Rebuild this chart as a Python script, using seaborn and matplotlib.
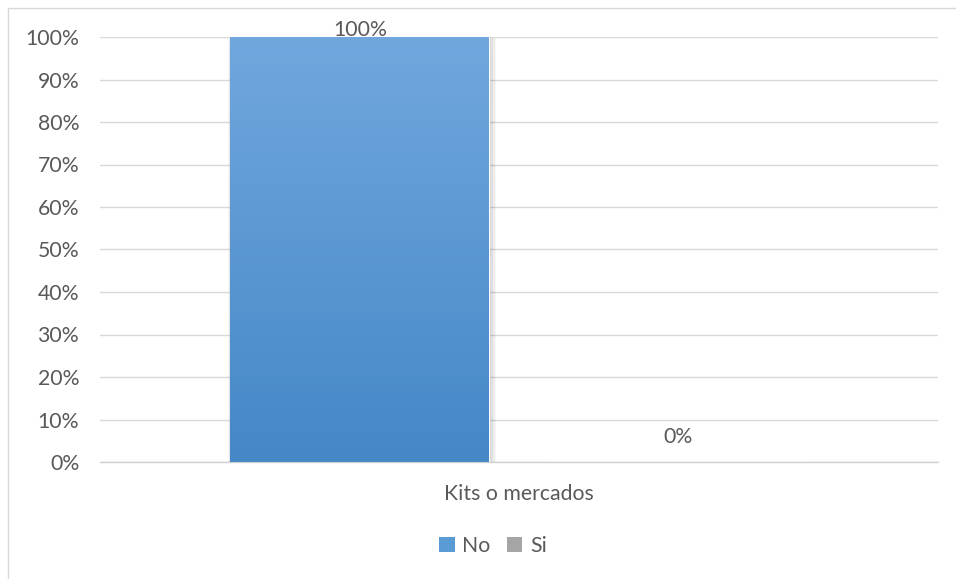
import numpy as np
import pandas as pd
import matplotlib
matplotlib.use("Agg")
import matplotlib.pyplot as plt
import matplotlib.patches as mpatches
from matplotlib.colors import LinearSegmentedColormap
from matplotlib.ticker import PercentFormatter, MultipleLocator
import seaborn as sns

# Survey result: share of answers per option
categories = ["Kits o mercados"]
answers = ["No", "Si"]
shares = [1.00, 0.00]
value_labels = ["100%", "0%"]

df = pd.DataFrame({
    "categoria": categories * len(answers),
    "respuesta": answers,
    "porcentaje": shares,
})

sns.set_theme(style="white")
plt.rcParams["font.family"] = ["Lato", "DejaVu Sans"]

text_color = "#595959"
grid_color = "#d9d9d9"
fs = 15.3
palette = {"No": "#5b9bd5", "Si": "#a5a5a5"}
gradients = {
    "No": LinearSegmentedColormap.from_list("no", ["#4488c7", "#71a7dd"]),
    "Si": LinearSegmentedColormap.from_list("si", ["#8f8f8f", "#b5b5b5"]),
}

fig = plt.figure(figsize=(9.56, 5.79), dpi=100)
W, H = 956, 579
ax = fig.add_axes([100 / W, (H - 462) / H, 838 / W, (462 - 37) / H])

sns.barplot(data=df, x="categoria", y="porcentaje", hue="respuesta",
            palette=palette, width=0.76, gap=0.187, ax=ax, legend=False,
            saturation=1, zorder=3)

ax.set_ylim(0, 1.0)
ax.set_xlim(-0.5, 0.5)
ax.yaxis.set_major_locator(MultipleLocator(0.1))
ax.yaxis.set_major_formatter(PercentFormatter(1.0, decimals=0))
ax.grid(axis="y", color=grid_color, linewidth=1.0, zorder=0)
ax.set_axisbelow(True)
for side in ["top", "right", "left"]:
    ax.spines[side].set_visible(False)
ax.spines["bottom"].set_color("#d0d0d0")
ax.spines["bottom"].set_linewidth(1.0)
ax.tick_params(axis="y", length=0, labelsize=fs, labelcolor=text_color, pad=15)
ax.tick_params(axis="x", length=0, labelsize=fs, labelcolor=text_color, pad=16)
ax.set_xlabel("")
ax.set_ylabel("")

# Vertical gradient fill and a soft shadow on each bar
grad = np.linspace(0, 1, 256).reshape(-1, 1)
for patch, ans in zip(ax.patches, answers):
    x0, y0 = patch.get_x(), patch.get_y()
    w, h = patch.get_width(), patch.get_height()
    if h <= 0:
        continue
    for i, a in enumerate([0.06, 0.05, 0.04, 0.03]):
        d = 0.0018 * (i + 1)
        sh = mpatches.Rectangle((x0 - d * 0.4, y0 - d * 0.8), w + d * 1.6, h + d * 0.2,
                                facecolor="black", alpha=a, edgecolor="none", zorder=2)
        ax.add_patch(sh)
    im = ax.imshow(grad, cmap=gradients[ans], aspect="auto", origin="lower",
                   extent=(x0, x0 + w, y0, y0 + h), zorder=3.5)
    im.set_clip_path(patch)
ax.set_xlim(-0.5, 0.5)
ax.set_ylim(0, 1.0)

# Value labels above the bars
offsets = [-2.5, 11]
for patch, lab, off in zip(ax.patches, value_labels, offsets):
    cx = patch.get_x() + patch.get_width() / 2
    ax.annotate(lab, (cx, patch.get_height()), xytext=(0, off),
                textcoords="offset points", ha="center", va="bottom",
                fontsize=fs, color=text_color, zorder=5, annotation_clip=False)

# Legend
handles = [mpatches.Patch(facecolor=palette[a], edgecolor="none", label=a) for a in answers]
fig.legend(handles=handles, loc="center", bbox_to_anchor=(493 / W, 1 - 546 / H),
           ncol=2, frameon=False, fontsize=fs, labelcolor=text_color,
           handlelength=0.72, handleheight=0.72, handletextpad=0.35, columnspacing=0.8)

# Chart area border
fig.add_artist(mpatches.Rectangle((8 / W, -0.05), 1.1, 1 - 8 / H + 0.05,
                                  transform=fig.transFigure, fill=False,
                                  edgecolor="#d9d9d9", linewidth=1.0))

fig.savefig("out.png", dpi=100, facecolor="white")
